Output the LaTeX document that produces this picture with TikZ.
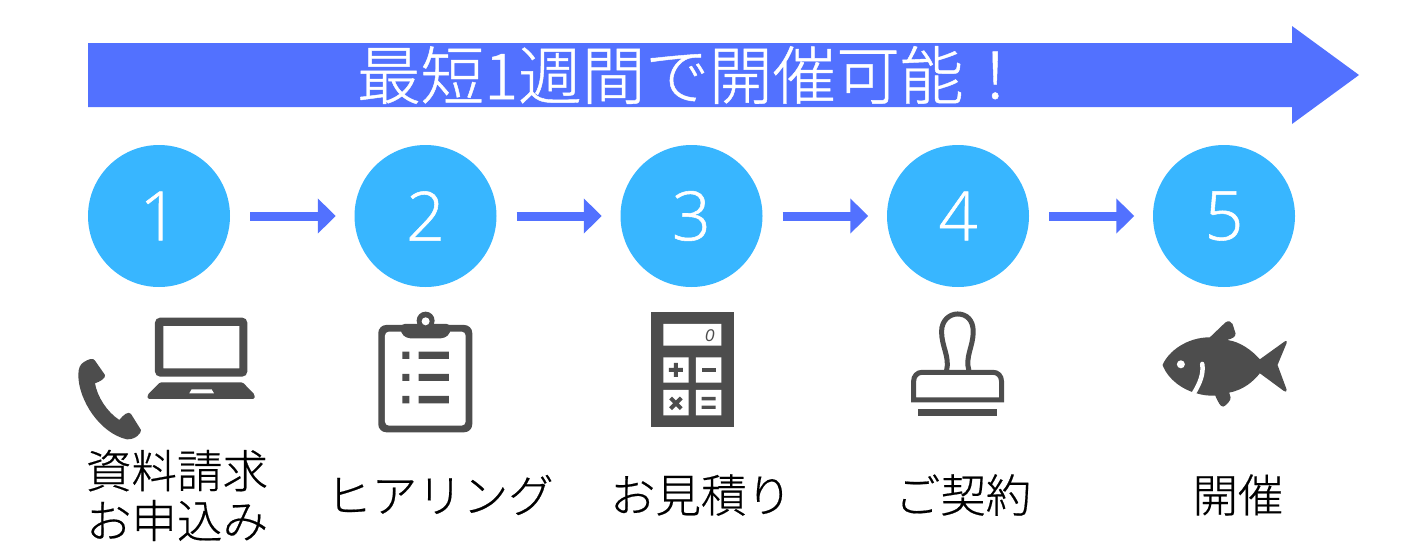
\documentclass[tikz,border=0pt]{standalone}
\usepackage{fontspec}
\usetikzlibrary{arrows.meta}
\newfontfamily\jpfont[FakeBold=0.4]{Noto Sans CJK JP Light}
\newfontfamily\bannerfont[FakeBold=0.7]{Noto Sans CJK JP Light}
\newfontfamily\numfont[FakeBold=0.8]{Open Sans Light}
\newfontfamily\calcfont[ItalicFont=* Italic]{Liberation Sans}
\definecolor{flowblue}{HTML}{5271FF}
\definecolor{discblue}{HTML}{38B6FF}
\definecolor{icon}{HTML}{4D4D4D}
\tikzset{
  disc/.style={circle,fill=discblue,minimum size=142pt,inner sep=0pt,text=white,font=\numfont\fontsize{68}{68}\selectfont},
  flowarrow/.style={draw=flowblue,line width=9pt,-{Triangle[length=18pt,width=34pt,fill=flowblue]},shorten <=20pt,shorten >=18.5pt},
  caption/.style={font=\jpfont\fontsize{45.5}{50}\selectfont,text=black,align=center,inner sep=0pt},
  iconfill/.style={fill=icon,draw=none},
  iconhole/.style={fill=white,draw=none},
  iconline/.style={draw=icon,line width=5pt,fill=none},
  zoomA/.style={x=.3333pt,y=-.3333pt,shift={(180,900)}},
  zoomB/.style={x=.3333pt,y=-.3333pt,shift={(1860,900)}},
  zoomC/.style={x=.3333pt,y=-.3333pt,shift={(3420,900)}}
}
\begin{document}
\begin{tikzpicture}[x=1pt,y=-1pt]
\useasboundingbox (0,0) rectangle (1414,554);
% banner
\fill[flowblue] (88,43) -- (1292,43) -- (1292,26) -- (1359,75) -- (1292,124) -- (1292,107) -- (88,107) -- cycle;
\node[text=white,font=\bannerfont\fontsize{63.6}{64}\selectfont,inner sep=0pt] (banner) at (692,75) {最短1週間で開催可能！};
% discs
\node[disc] (d1) at (159,216) {1};
\node[disc] (d2) at (425.5,216) {2};
\node[disc] (d3) at (691.5,216) {3};
\node[disc] (d4) at (958,216) {4};
\node[disc] (d5) at (1224,216) {5};
\draw[flowarrow] (d1) -- (d2);
\draw[flowarrow] (d2) -- (d3);
\draw[flowarrow] (d3) -- (d4);
\draw[flowarrow] (d4) -- (d5);
% captions
\node[caption] (c1) at (177,495.5) {資料請求\\お申込み};
\node[caption] (c2) at (440,495) {ヒアリング};
\node[caption] (c3) at (701,495) {お見積り};
\node[caption] (c4) at (963,495) {ご契約};
\node[caption] (c5) at (1238,495) {開催};
% laptop + phone
\begin{scope}[zoomA]
\fill[icon,even odd rule,rounded corners=5pt] (285,53) rectangle (562,230) [sharp corners] (310,78) rectangle (538,205);
\fill[iconfill,rounded corners=1.5pt] (263,297) -- (263,284) -- (300,247) -- (548,247) -- (584,284) -- (584,297) -- cycle;
\fill[iconhole] (395,268) -- (455,268) -- (462,280) -- (388,280) -- cycle;
\fill[iconfill] (72,186) .. controls (85,178) and (100,172) .. (105,182)
  -- (135,225) .. controls (138,235) and (120,245) .. (105,250)
  .. controls (112,290) and (140,335) .. (178,360)
  .. controls (190,345) and (205,332) .. (213,342)
  -- (243,390) .. controls (245,400) and (225,420) .. (200,418)
  .. controls (120,400) and (55,300) .. (55,225)
  .. controls (55,205) and (60,193) .. (72,186) -- cycle;
% clipboard
\fill[icon,rounded corners=8pt] (955,75) rectangle (1237,397);
\fill[white,rounded corners=4pt] (975,95) rectangle (1217,377);
\fill[icon,rounded corners=4pt] (1022,72) -- (1172,72) -- (1172,98) -- (1155,115) -- (1039,115) -- (1022,98) -- cycle;
\fill[icon] (1097,62) circle[radius=27];
\fill[iconhole] (1097,64) circle[radius=12];
\fill[icon] (1027,155) rectangle (1048,177) (1076,155) rectangle (1167,177)
  (1027,222) rectangle (1048,243) (1076,222) rectangle (1167,243)
  (1027,288) rectangle (1048,310) (1076,288) rectangle (1167,310);
\end{scope}
% calculator
\begin{scope}[zoomB]
\fill[icon] (92,35) rectangle (341,381);
\fill[white] (130,72) rectangle (304,137) (130,172) rectangle (206,248) (228,172) rectangle (304,248) (130,270) rectangle (206,346) (228,270) rectangle (304,346);
\node[text=icon,inner sep=0pt,font=\calcfont\itshape\fontsize{17}{17}\selectfont] (zero) at (270,106) {0};
\fill[icon] (147,204) rectangle (189,216) (162,189) rectangle (174,231);
\fill[icon] (245,204) rectangle (287,216);
\draw[icon,line width=4pt] (152,294) -- (184,326) (184,294) -- (152,326);
\fill[icon] (245,291) rectangle (287,301) (245,317) rectangle (287,327);
% stamp
\draw[iconline] (980,212) .. controls (990,170) and (965,140) .. (965,95)
  .. controls (965,60) and (990,42) .. (1013,42)
  .. controls (1040,42) and (1060,60) .. (1060,95)
  .. controls (1060,140) and (1035,170) .. (1047,212);
\draw[iconline] (881,300) -- (881,245) .. controls (881,228) and (892,217) .. (907,217)
  -- (1119,217) .. controls (1134,217) and (1145,228) .. (1145,245) -- (1145,300) -- cycle;
\fill[icon] (895,326) rectangle (1132,349);
\end{scope}
% fish
\begin{scope}[zoomC]
\fill[iconfill] (68,195) .. controls (85,155) and (140,112) .. (210,112)
  -- (256,68) .. controls (265,60) and (275,65) .. (278,72)
  -- (287,100) .. controls (288,112) and (275,116) .. (262,120)
  .. controls (300,125) and (335,150) .. (360,178)
  -- (435,124) .. controls (440,120) and (442,124) .. (440,130)
  -- (413,195) -- (440,268) .. controls (442,276) and (437,277) .. (432,273)
  -- (360,220) .. controls (340,245) and (310,270) .. (268,278)
  -- (272,292) .. controls (275,300) and (258,318) .. (250,320)
  .. controls (240,320) and (235,305) .. (226,287)
  .. controls (205,288) and (185,285) .. (170,280)
  .. controls (130,270) and (85,240) .. (68,195) -- cycle;
\fill[iconhole] (123,193) circle[radius=12];
\draw[white,line width=4.5pt,line cap=round] (187,192) .. controls (192,220) and (180,250) .. (163,278);
\end{scope}
\end{tikzpicture}
\end{document}
